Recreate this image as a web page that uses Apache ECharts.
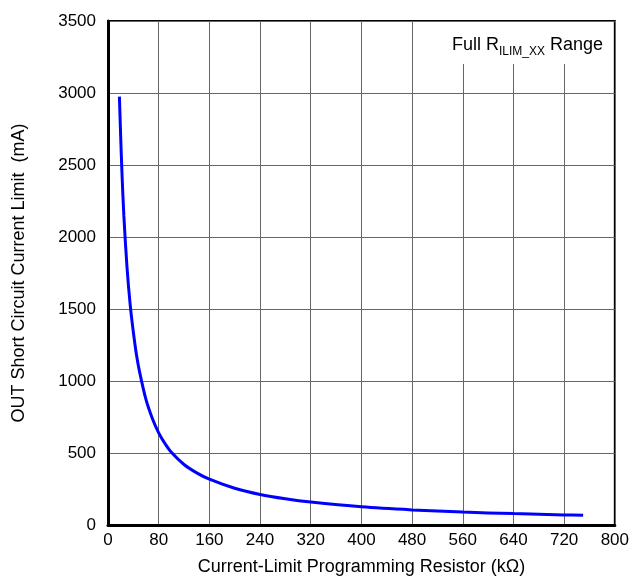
<!DOCTYPE html>
<html>
<head>
    <meta charset="UTF-8">
    <title>chart</title>
    <style>
        html, body { margin: 0; padding: 0; background: #fff; }
    </style>
</head>
<body>
    <div id="show" style="width: 632px; height: 581px;"></div>
    <script src="https://cdn.jsdelivr.net/npm/echarts@6/dist/echarts.min.js"></script>
    <script>
        // resistor (kOhm) and short-circuit current (mA)
        var resistor = [18, 20, 22, 25, 30, 35, 40, 45, 50, 60, 70, 80, 90, 100, 120, 140, 160, 200, 240, 280, 320, 400, 480, 560, 640, 720, 750];
        var current = [2975, 2700, 2450, 2150, 1790, 1530, 1340, 1180, 1060, 870, 740, 640, 565, 505, 420, 362, 318, 255, 212, 182, 159, 126, 105, 90, 79, 70, 67];

        var font = 'Liberation Sans, Arial, sans-serif';
        var chart = echarts.init(document.getElementById('show'));

        chart.setOption({
            animation: false,
            grid: {
                left: 108, right: 15, top: 21, bottom: 54,
                show: true, borderColor: '#000', borderWidth: 2
            },
            xAxis: {
                type: 'value', min: 0, max: 800, interval: 80,
                name: 'Current-Limit Programming Resistor (kΩ)',
                nameLocation: 'middle', nameGap: 33,
                nameTextStyle: { color: '#000', fontSize: 18, fontFamily: font },
                axisLine: { lineStyle: { color: '#000', width: 3 } },
                axisTick: { show: false },
                axisLabel: { color: '#000', fontSize: 17, fontFamily: font, margin: 7 },
                splitLine: { lineStyle: { color: '#666', width: 1 } }
            },
            yAxis: {
                type: 'value', min: 0, max: 3500, interval: 500,
                name: 'OUT Short Circuit Current Limit  (mA)',
                nameLocation: 'middle', nameGap: 80,
                nameTextStyle: { color: '#000', fontSize: 18, fontFamily: font },
                axisLine: { show: true, lineStyle: { color: '#000', width: 3 } },
                axisTick: { show: false },
                axisLabel: {
                    color: '#000', fontSize: 17, fontFamily: font, margin: 12,
                    formatter: function (v) { return String(v); }
                },
                splitLine: { lineStyle: { color: '#666', width: 1 } }
            },
            graphic: [{
                type: 'text',
                right: 19, top: 22,
                z: 100,
                style: {
                    text: '{a|Full R}{s|ILIM_XX}{a| Range}',
                    backgroundColor: '#fff',
                    padding: [8, 10, 10, 18],
                    rich: {
                        a: { fontSize: 18, fontFamily: font, fill: '#000', verticalAlign: 'bottom', lineHeight: 24 },
                        s: { fontSize: 12, fontFamily: font, fill: '#000', verticalAlign: 'bottom', lineHeight: 17, padding: [0, 0, -4, 0] }
                    }
                }
            }],
            series: [{
                type: 'line',
                data: resistor.map(function (r, i) { return [r, current[i]]; }),
                showSymbol: false,
                smooth: 0.3,
                lineStyle: { color: '#0000ff', width: 3 }
            }]
        });
    </script>
</body>
</html>
